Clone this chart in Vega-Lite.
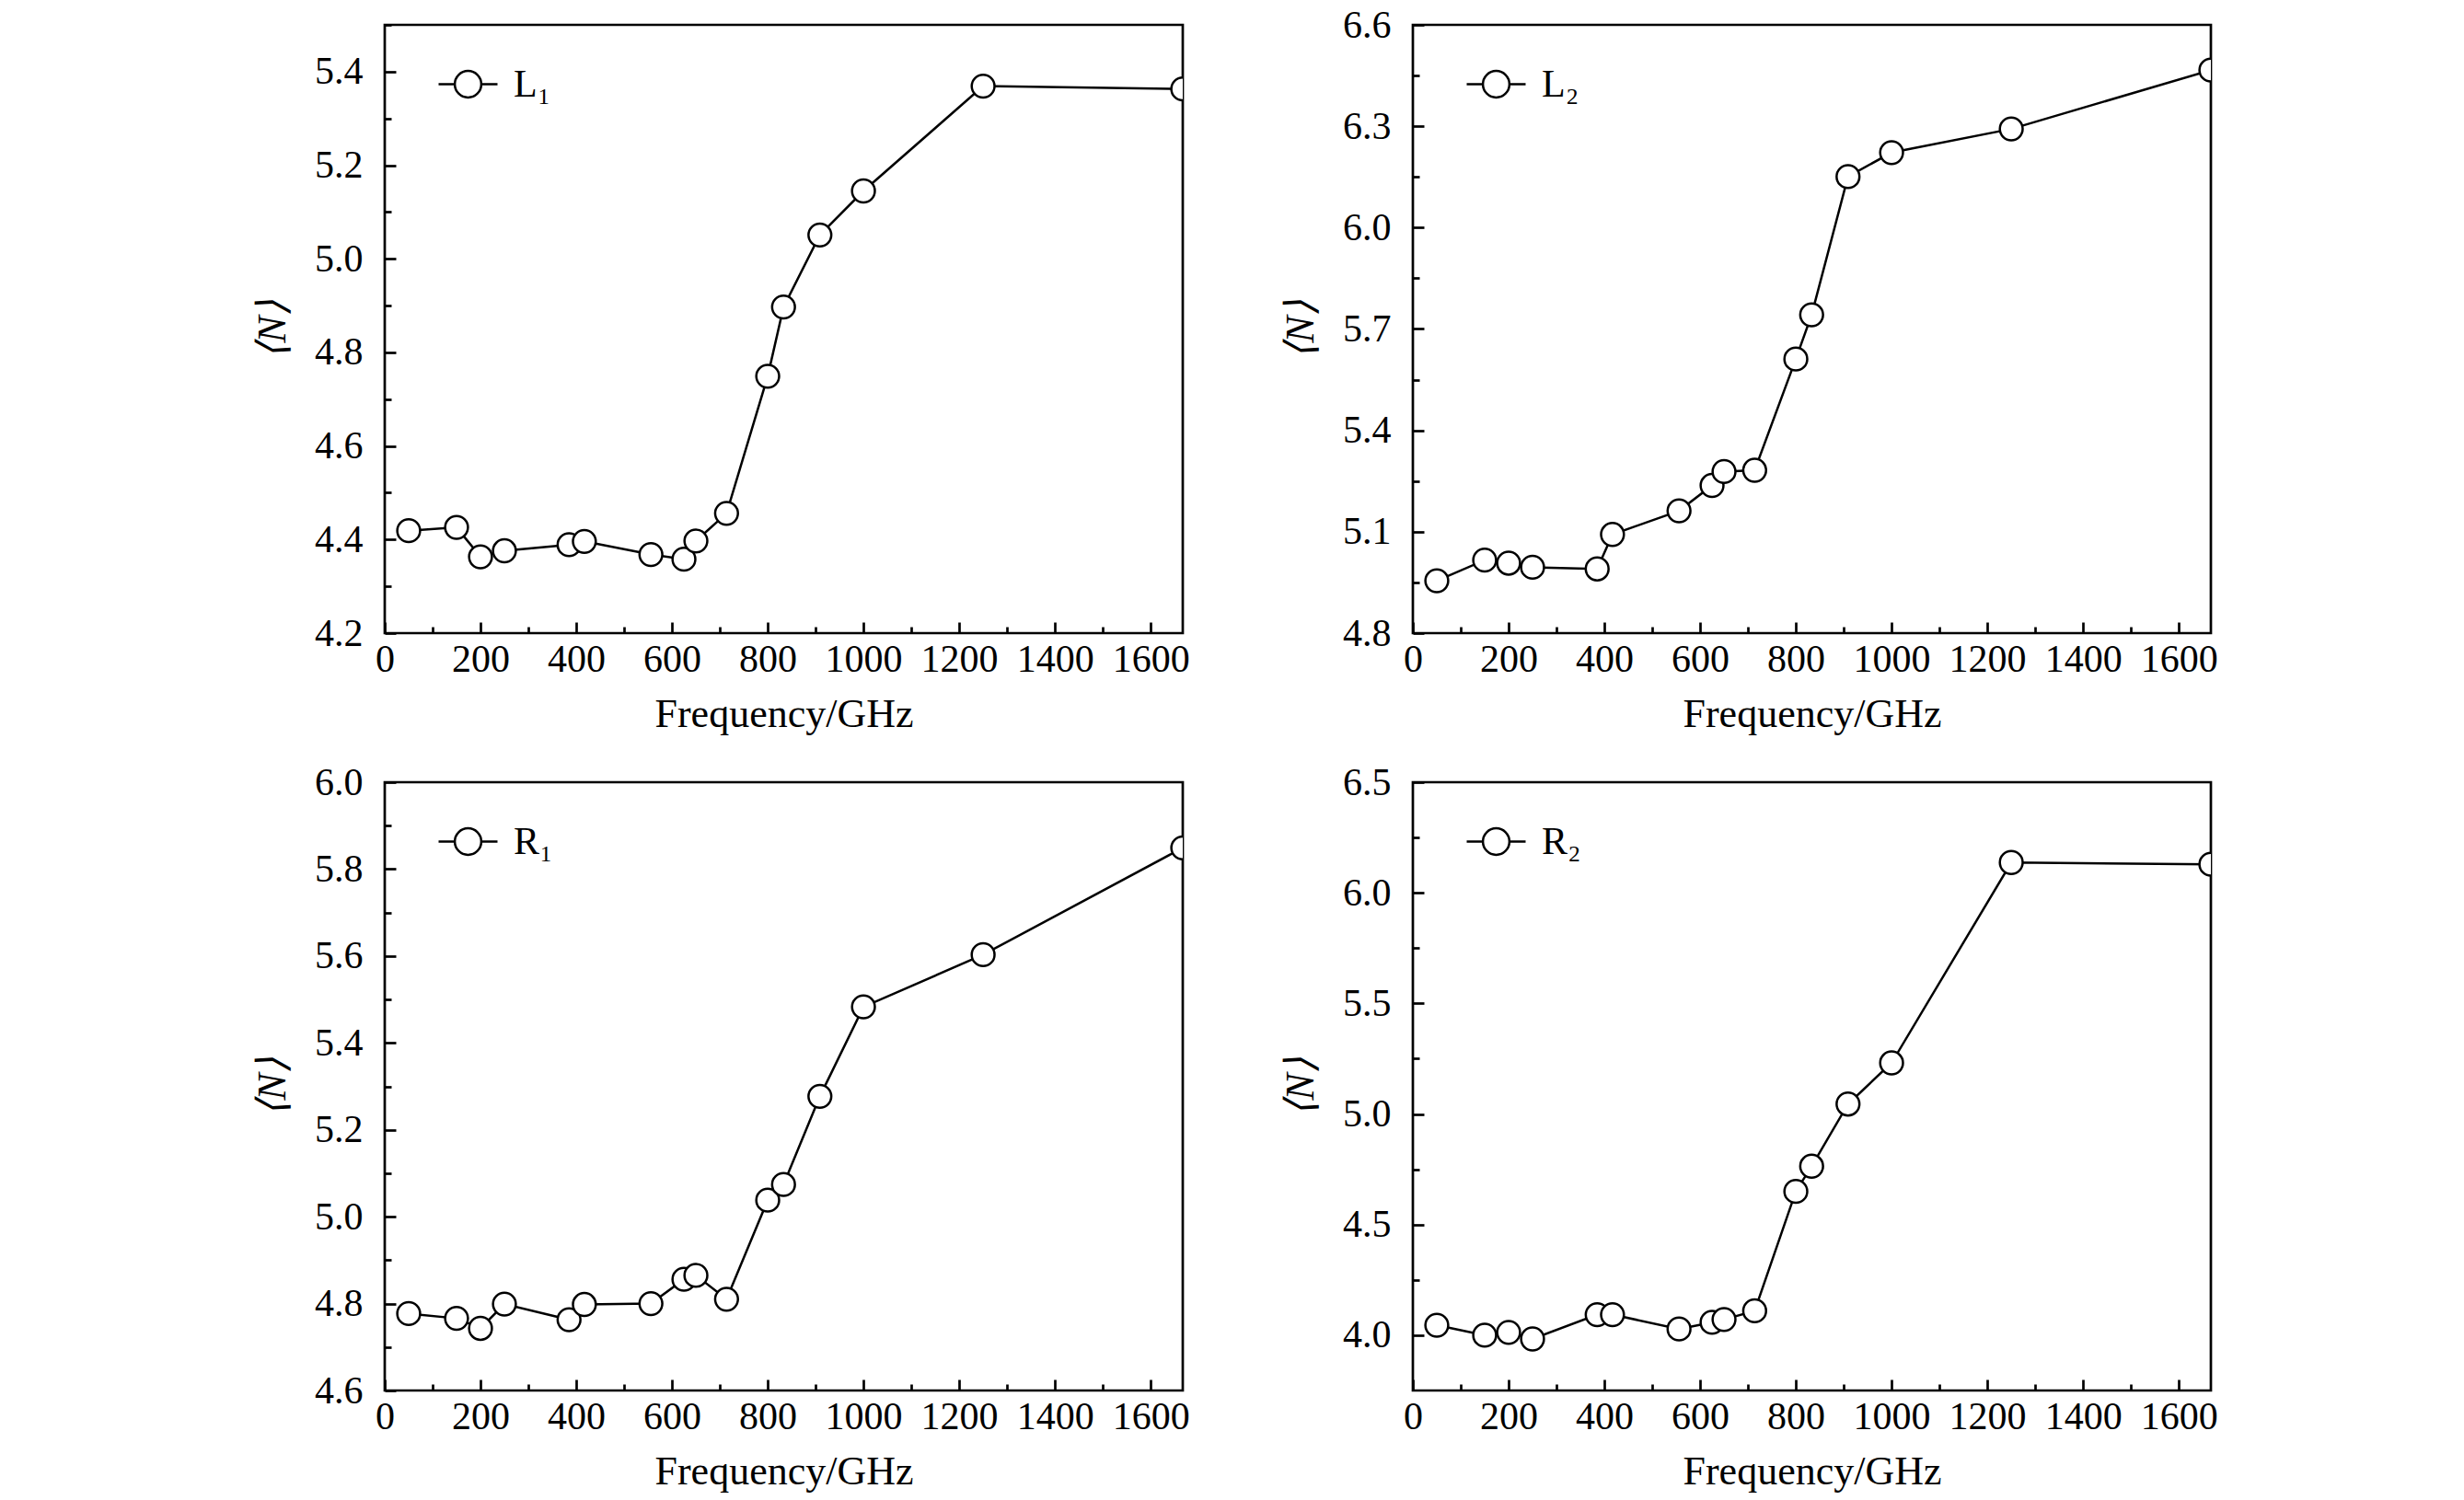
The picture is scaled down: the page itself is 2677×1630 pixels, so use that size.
{
  "$schema": "https://vega.github.io/schema/vega-lite/v6.json",
  "background": "white",
  "padding": {"left": 273, "top": 4, "right": 0, "bottom": 0},
  "config": {
    "font": "Liberation Serif",
    "view": {"stroke": "black", "strokeWidth": 2.7},
    "axis": {
      "grid": false,
      "domain": false,
      "tickColor": "black",
      "tickWidth": 2.7,
      "labelColor": "black",
      "labelFont": "Liberation Serif",
      "labelFontSize": 42,
      "titleColor": "black",
      "titleFont": "Liberation Serif",
      "titleFontSize": 44,
      "titleFontWeight": "normal",
      "labelFlush": false,
      "labelOverlap": false
    },
    "axisX": {"labelPadding": 20, "titlePadding": 17},
    "axisY": {"labelPadding": 36, "titlePadding": 23},
    "legend": {
      "orient": "none",
      "legendX": 57,
      "legendY": 31,
      "title": null,
      "labelFont": "Liberation Serif",
      "labelFontSize": 42,
      "labelColor": "black",
      "labelOffset": 16,
      "symbolType": "M-1,0L-0.45,0M0.45,0L1,0M-0.45,0A0.45,0.45,0,1,0,0.45,0A0.45,0.45,0,1,0,-0.45,0Z",
      "symbolSize": 4096,
      "symbolStrokeWidth": 2.5,
      "symbolFillColor": "white",
      "symbolStrokeColor": "black"
    }
  },
  "data": {
    "values": [
      {"panel": "L₁", "f": 50, "n": 4.419}, {"panel": "L₁", "f": 150, "n": 4.426},
      {"panel": "L₁", "f": 200, "n": 4.363}, {"panel": "L₁", "f": 250, "n": 4.376},
      {"panel": "L₁", "f": 385, "n": 4.389}, {"panel": "L₁", "f": 417, "n": 4.396},
      {"panel": "L₁", "f": 556, "n": 4.368}, {"panel": "L₁", "f": 625, "n": 4.358},
      {"panel": "L₁", "f": 650, "n": 4.397}, {"panel": "L₁", "f": 714, "n": 4.456},
      {"panel": "L₁", "f": 800, "n": 4.749}, {"panel": "L₁", "f": 833, "n": 4.897},
      {"panel": "L₁", "f": 909, "n": 5.051}, {"panel": "L₁", "f": 1000, "n": 5.145},
      {"panel": "L₁", "f": 1250, "n": 5.369}, {"panel": "L₁", "f": 1667, "n": 5.363},

      {"panel": "L₂", "f": 50, "n": 4.955}, {"panel": "L₂", "f": 150, "n": 5.016},
      {"panel": "L₂", "f": 200, "n": 5.007}, {"panel": "L₂", "f": 250, "n": 4.995},
      {"panel": "L₂", "f": 385, "n": 4.990}, {"panel": "L₂", "f": 417, "n": 5.092},
      {"panel": "L₂", "f": 556, "n": 5.162}, {"panel": "L₂", "f": 625, "n": 5.237},
      {"panel": "L₂", "f": 650, "n": 5.278}, {"panel": "L₂", "f": 714, "n": 5.282},
      {"panel": "L₂", "f": 800, "n": 5.611}, {"panel": "L₂", "f": 833, "n": 5.742},
      {"panel": "L₂", "f": 909, "n": 6.151}, {"panel": "L₂", "f": 1000, "n": 6.222},
      {"panel": "L₂", "f": 1250, "n": 6.292}, {"panel": "L₂", "f": 1667, "n": 6.466},

      {"panel": "R₁", "f": 50, "n": 4.777}, {"panel": "R₁", "f": 150, "n": 4.766},
      {"panel": "R₁", "f": 200, "n": 4.743}, {"panel": "R₁", "f": 250, "n": 4.799},
      {"panel": "R₁", "f": 385, "n": 4.763}, {"panel": "R₁", "f": 417, "n": 4.798},
      {"panel": "R₁", "f": 556, "n": 4.800}, {"panel": "R₁", "f": 625, "n": 4.856},
      {"panel": "R₁", "f": 650, "n": 4.865}, {"panel": "R₁", "f": 714, "n": 4.810},
      {"panel": "R₁", "f": 800, "n": 5.038}, {"panel": "R₁", "f": 833, "n": 5.074},
      {"panel": "R₁", "f": 909, "n": 5.277}, {"panel": "R₁", "f": 1000, "n": 5.483},
      {"panel": "R₁", "f": 1250, "n": 5.603}, {"panel": "R₁", "f": 1667, "n": 5.849},

      {"panel": "R₂", "f": 50, "n": 4.045}, {"panel": "R₂", "f": 150, "n": 4.000},
      {"panel": "R₂", "f": 200, "n": 4.013}, {"panel": "R₂", "f": 250, "n": 3.983},
      {"panel": "R₂", "f": 385, "n": 4.093}, {"panel": "R₂", "f": 417, "n": 4.093},
      {"panel": "R₂", "f": 556, "n": 4.028}, {"panel": "R₂", "f": 625, "n": 4.058},
      {"panel": "R₂", "f": 650, "n": 4.071}, {"panel": "R₂", "f": 714, "n": 4.110},
      {"panel": "R₂", "f": 800, "n": 4.650}, {"panel": "R₂", "f": 833, "n": 4.764},
      {"panel": "R₂", "f": 909, "n": 5.045}, {"panel": "R₂", "f": 1000, "n": 5.231},
      {"panel": "R₂", "f": 1250, "n": 6.137}, {"panel": "R₂", "f": 1667, "n": 6.129}
    ]
  },
  "columns": 2,
  "spacing": {"column": 96, "row": 27},
  "concat": [
    {
      "width": 867, "height": 661,
      "transform": [{"filter": "datum.panel == 'L₁'"}],
      "layer": [
        {
          "mark": {"type": "line", "color": "black", "strokeWidth": 2.5, "clip": true},
          "encoding": {
            "x": {"field": "f", "type": "quantitative",
                  "scale": {"domain": [0, 1667], "nice": false, "zero": false},
                  "axis": {"orient": "bottom", "values": [0, 200, 400, 600, 800, 1000, 1200, 1400, 1600], "format": "d", "tickSize": -12, "title": "Frequency/GHz"}},
            "y": {"field": "n", "type": "quantitative",
                  "scale": {"domain": [4.2, 5.5], "nice": false, "zero": false},
                  "axis": {"orient": "left", "values": [4.2, 4.4, 4.6, 4.8, 5.0, 5.2, 5.4], "format": ".1f", "tickSize": -12, "title": "⟨N⟩", "titleFontStyle": "italic"}}
          }
        },
        {
          "mark": {"type": "point", "shape": "circle", "filled": true, "fill": "white", "opacity": 1, "strokeWidth": 2.5, "size": 615, "clip": true},
          "encoding": {
            "x": {"field": "f", "type": "quantitative",
                  "axis": {"orient": "bottom", "values": [100, 300, 500, 700, 900, 1100, 1300, 1500], "labels": false, "title": null, "tickSize": -7}},
            "y": {"field": "n", "type": "quantitative",
                  "axis": {"orient": "left", "values": [4.3, 4.5, 4.7, 4.9, 5.1, 5.3, 5.5], "labels": false, "title": null, "tickSize": -7}},
            "stroke": {"field": "panel", "type": "nominal", "scale": {"range": ["black"]}, "legend": {}}
          }
        }
      ],
      "resolve": {"axis": {"x": "independent", "y": "independent"}}
    },
    {
      "width": 867, "height": 661,
      "transform": [{"filter": "datum.panel == 'L₂'"}],
      "layer": [
        {
          "mark": {"type": "line", "color": "black", "strokeWidth": 2.5, "clip": true},
          "encoding": {
            "x": {"field": "f", "type": "quantitative",
                  "scale": {"domain": [0, 1667], "nice": false, "zero": false},
                  "axis": {"orient": "bottom", "values": [0, 200, 400, 600, 800, 1000, 1200, 1400, 1600], "format": "d", "tickSize": -12, "title": "Frequency/GHz"}},
            "y": {"field": "n", "type": "quantitative",
                  "scale": {"domain": [4.8, 6.6], "nice": false, "zero": false},
                  "axis": {"orient": "left", "values": [4.8, 5.1, 5.4, 5.7, 6.0, 6.3, 6.6], "format": ".1f", "tickSize": -12, "title": "⟨N⟩", "titleFontStyle": "italic"}}
          }
        },
        {
          "mark": {"type": "point", "shape": "circle", "filled": true, "fill": "white", "opacity": 1, "strokeWidth": 2.5, "size": 615, "clip": true},
          "encoding": {
            "x": {"field": "f", "type": "quantitative",
                  "axis": {"orient": "bottom", "values": [100, 300, 500, 700, 900, 1100, 1300, 1500], "labels": false, "title": null, "tickSize": -7}},
            "y": {"field": "n", "type": "quantitative",
                  "axis": {"orient": "left", "values": [4.95, 5.25, 5.55, 5.85, 6.15, 6.45], "labels": false, "title": null, "tickSize": -7}},
            "stroke": {"field": "panel", "type": "nominal", "scale": {"range": ["black"]}, "legend": {}}
          }
        }
      ],
      "resolve": {"axis": {"x": "independent", "y": "independent"}}
    },
    {
      "width": 867, "height": 661,
      "transform": [{"filter": "datum.panel == 'R₁'"}],
      "layer": [
        {
          "mark": {"type": "line", "color": "black", "strokeWidth": 2.5, "clip": true},
          "encoding": {
            "x": {"field": "f", "type": "quantitative",
                  "scale": {"domain": [0, 1667], "nice": false, "zero": false},
                  "axis": {"orient": "bottom", "values": [0, 200, 400, 600, 800, 1000, 1200, 1400, 1600], "format": "d", "tickSize": -12, "title": "Frequency/GHz"}},
            "y": {"field": "n", "type": "quantitative",
                  "scale": {"domain": [4.6, 6.0], "nice": false, "zero": false},
                  "axis": {"orient": "left", "values": [4.6, 4.8, 5.0, 5.2, 5.4, 5.6, 5.8, 6.0], "format": ".1f", "tickSize": -12, "title": "⟨N⟩", "titleFontStyle": "italic"}}
          }
        },
        {
          "mark": {"type": "point", "shape": "circle", "filled": true, "fill": "white", "opacity": 1, "strokeWidth": 2.5, "size": 615, "clip": true},
          "encoding": {
            "x": {"field": "f", "type": "quantitative",
                  "axis": {"orient": "bottom", "values": [100, 300, 500, 700, 900, 1100, 1300, 1500], "labels": false, "title": null, "tickSize": -7}},
            "y": {"field": "n", "type": "quantitative",
                  "axis": {"orient": "left", "values": [4.7, 4.9, 5.1, 5.3, 5.5, 5.7, 5.9], "labels": false, "title": null, "tickSize": -7}},
            "stroke": {"field": "panel", "type": "nominal", "scale": {"range": ["black"]}, "legend": {}}
          }
        }
      ],
      "resolve": {"axis": {"x": "independent", "y": "independent"}}
    },
    {
      "width": 867, "height": 661,
      "transform": [{"filter": "datum.panel == 'R₂'"}],
      "layer": [
        {
          "mark": {"type": "line", "color": "black", "strokeWidth": 2.5, "clip": true},
          "encoding": {
            "x": {"field": "f", "type": "quantitative",
                  "scale": {"domain": [0, 1667], "nice": false, "zero": false},
                  "axis": {"orient": "bottom", "values": [0, 200, 400, 600, 800, 1000, 1200, 1400, 1600], "format": "d", "tickSize": -12, "title": "Frequency/GHz"}},
            "y": {"field": "n", "type": "quantitative",
                  "scale": {"domain": [3.75, 6.5], "nice": false, "zero": false},
                  "axis": {"orient": "left", "values": [4.0, 4.5, 5.0, 5.5, 6.0, 6.5], "format": ".1f", "tickSize": -12, "title": "⟨N⟩", "titleFontStyle": "italic"}}
          }
        },
        {
          "mark": {"type": "point", "shape": "circle", "filled": true, "fill": "white", "opacity": 1, "strokeWidth": 2.5, "size": 615, "clip": true},
          "encoding": {
            "x": {"field": "f", "type": "quantitative",
                  "axis": {"orient": "bottom", "values": [100, 300, 500, 700, 900, 1100, 1300, 1500], "labels": false, "title": null, "tickSize": -7}},
            "y": {"field": "n", "type": "quantitative",
                  "axis": {"orient": "left", "values": [4.25, 4.75, 5.25, 5.75, 6.25], "labels": false, "title": null, "tickSize": -7}},
            "stroke": {"field": "panel", "type": "nominal", "scale": {"range": ["black"]}, "legend": {}}
          }
        }
      ],
      "resolve": {"axis": {"x": "independent", "y": "independent"}}
    }
  ],
  "resolve": {"scale": {"stroke": "independent"}, "legend": {"stroke": "independent"}}
}
